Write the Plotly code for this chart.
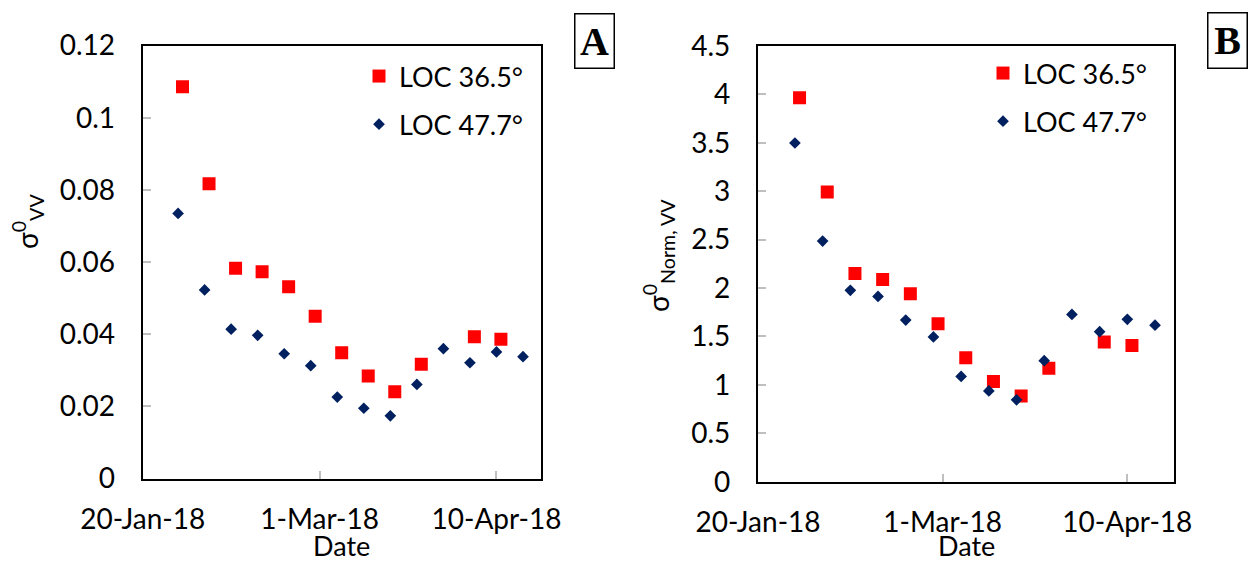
import plotly.graph_objects as go

# ---- data ----
dates_36 = ["2018-01-29", "2018-02-04", "2018-02-10", "2018-02-16", "2018-02-22", "2018-02-28",
            "2018-03-06", "2018-03-12", "2018-03-18", "2018-03-24", "2018-04-05", "2018-04-11"]
dates_47 = ["2018-01-28", "2018-02-03", "2018-02-09", "2018-02-15", "2018-02-21", "2018-02-27",
            "2018-03-05", "2018-03-11", "2018-03-17", "2018-03-23", "2018-03-29", "2018-04-04",
            "2018-04-10", "2018-04-16"]

sigma_vv_36 = [0.1086, 0.0817, 0.0583, 0.0573, 0.0532, 0.0450, 0.0349, 0.0284, 0.0241, 0.0317, 0.0393, 0.0386]
sigma_vv_47 = [0.0735, 0.0523, 0.0414, 0.0397, 0.0346, 0.0313, 0.0226, 0.0195, 0.0174, 0.0261, 0.0360,
               0.0321, 0.0351, 0.0338]

norm_vv_36 = [3.965, 2.993, 2.151, 2.088, 1.940, 1.632, 1.280, 1.035, 0.886, 1.172, 1.443, 1.406]
norm_vv_47 = [3.498, 2.485, 1.977, 1.914, 1.669, 1.495, 1.087, 0.938, 0.846, 1.250, 1.728, 1.550,
              1.677, 1.617]

x_tick_vals = ["2018-01-20", "2018-03-01", "2018-04-10"]
x_tick_text = ["20-Jan-18", "1-Mar-18", "10-Apr-18"]
x_range = ["2018-01-20", "2018-04-20"]

ya_tick_vals = [0, 0.02, 0.04, 0.06, 0.08, 0.1, 0.12]
ya_tick_text = ["0", "0.02", "0.04", "0.06", "0.08", "0.1", "0.12"]
yb_tick_vals = [0, 0.5, 1, 1.5, 2, 2.5, 3, 3.5, 4, 4.5]
yb_tick_text = ["0", "0.5", "1", "1.5", "2", "2.5", "3", "3.5", "4", "4.5"]

name_36 = "LOC 36.5°"
name_47 = "LOC 47.7°"

RED = "#FF0000"
NAVY = "#002060"
FONT = "Lato"
W, H = 1251, 563

fig = go.Figure()

fig.add_trace(go.Scatter(x=dates_36, y=sigma_vv_36, mode="markers", name=name_36,
                         marker=dict(symbol="square", size=13, color=RED),
                         xaxis="x", yaxis="y", legend="legend", legendgroup="a1"))
fig.add_trace(go.Scatter(x=dates_47, y=sigma_vv_47, mode="markers", name=name_47,
                         marker=dict(symbol="diamond", size=9, color=NAVY),
                         xaxis="x", yaxis="y", legend="legend", legendgroup="a2"))
fig.add_trace(go.Scatter(x=dates_36, y=norm_vv_36, mode="markers", name=name_36,
                         marker=dict(symbol="square", size=13, color=RED),
                         xaxis="x2", yaxis="y2", legend="legend2", legendgroup="b1"))
fig.add_trace(go.Scatter(x=dates_47, y=norm_vv_47, mode="markers", name=name_47,
                         marker=dict(symbol="diamond", size=9, color=NAVY),
                         xaxis="x2", yaxis="y2", legend="legend2", legendgroup="b2"))


def px_x(v):
    return v / W


def px_y(v):
    return 1 - v / H


axis_common = dict(showline=True, linecolor="black", linewidth=2.2, mirror=True,
                   ticks="inside", ticklen=8, tickwidth=1.5, tickcolor="#BFBFBF",
                   showgrid=False, zeroline=False, automargin=False,
                   tickfont=dict(family=FONT, size=28, color="black"))

fig.update_layout(
    template="none",
    width=W, height=H,
    margin=dict(l=0, r=0, t=0, b=0, autoexpand=False),
    paper_bgcolor="white", plot_bgcolor="white",
    showlegend=True,
    xaxis=dict(domain=[px_x(142.7), px_x(540.7)], anchor="y", type="date", range=x_range,
               tickvals=x_tick_vals, ticktext=x_tick_text, ticklabelstandoff=15, **axis_common),
    yaxis=dict(domain=[px_y(478.6), px_y(45.6)], anchor="x", range=[0, 0.12],
               tickvals=ya_tick_vals, ticktext=ya_tick_text, ticklabelstandoff=20, **axis_common),
    xaxis2=dict(domain=[px_x(758), px_x(1173.5)], anchor="y2", type="date", range=x_range,
                tickvals=x_tick_vals, ticktext=x_tick_text, ticklabelstandoff=15, **axis_common),
    yaxis2=dict(domain=[px_y(481.7), px_y(46)], anchor="x2", range=[0, 4.5],
                tickvals=yb_tick_vals, ticktext=yb_tick_text, ticklabelstandoff=20, **axis_common),
    legend=dict(x=px_x(359), y=px_y(52), xanchor="left", yanchor="top",
                font=dict(family=FONT, size=27, color="black"), tracegroupgap=10,
                bgcolor="rgba(0,0,0,0)"),
    legend2=dict(x=px_x(983), y=px_y(49), xanchor="left", yanchor="top",
                 font=dict(family=FONT, size=27, color="black"), tracegroupgap=10,
                 bgcolor="rgba(0,0,0,0)"),
)

ann_font = dict(family=FONT, size=28, color="black")
annotations = [
    dict(text="σ<sup>0</sup><sub>VV</sub>", x=px_x(27.5), y=px_y(221.5), textangle=-90,
         font=ann_font, xanchor="center", yanchor="middle"),
    dict(text="σ<sup>0</sup><sub>Norm, VV</sub>", x=px_x(658), y=px_y(256), textangle=-90,
         font=ann_font, xanchor="center", yanchor="middle"),
    dict(text="Date", x=px_x(341.7), y=0, borderpad=0,
         font=dict(family=FONT, size=27, color="black"), xanchor="center", yanchor="bottom"),
    dict(text="Date", x=px_x(966), y=0, borderpad=0,
         font=dict(family=FONT, size=27, color="black"), xanchor="center", yanchor="bottom"),
    dict(text="<b>A</b>", x=px_x(594.2), y=px_y(41), width=38, height=53, borderpad=0,
         bordercolor="black", borderwidth=1.5, xanchor="center", yanchor="middle",
         font=dict(family="Liberation Serif", size=40, color="black")),
    dict(text="<b>B</b>", x=px_x(1227.3), y=px_y(40.5), width=38, height=54, borderpad=0,
         bordercolor="black", borderwidth=1.5, xanchor="center", yanchor="middle",
         font=dict(family="Liberation Serif", size=40, color="black")),
]
for a in annotations:
    a.update(xref="paper", yref="paper", showarrow=False)
fig.update_layout(annotations=annotations)

fig.write_html("out.html", config={"displayModeBar": False},
               post_script="document.body.style.margin='0';document.body.style.padding='0';"
                           "document.body.style.overflow='hidden';")
